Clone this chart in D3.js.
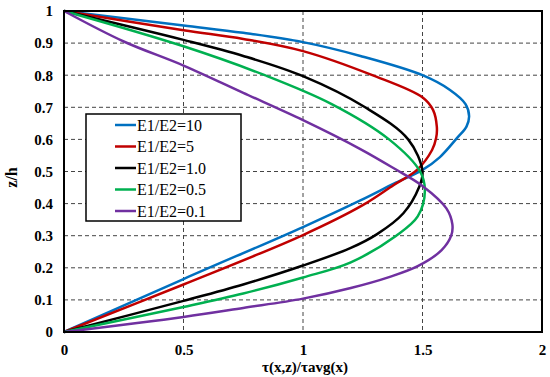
<!DOCTYPE html>
<html>
<head>
<meta charset="utf-8">
<script src="https://cdn.jsdelivr.net/npm/d3@7"></script>
<style>
body{margin:0;background:#fff}
svg text{font-family:"Liberation Serif","Times New Roman","DejaVu Serif",serif}
</style>
</head>
<body>
<script>
const w=550
const h=377
const mLeft=64, mRight=542, mTop=11, mBottom=332

// series names and colours
const names=["E1/E2=10","E1/E2=5","E1/E2=1.0","E1/E2=0.5","E1/E2=0.1"]
const colors=["#0070C0","#C00000","#000000","#00B050","#7030A0"]

// [tau, z] points, bottom to top
const e10=[[0,0],[0.5,0.165],[1.0,0.327],[1.24,0.41],[1.38,0.462],[1.5,0.505],[1.573,0.545],[1.644,0.604],[1.684,0.64],[1.695,0.672],[1.68,0.71],[1.615,0.754],[1.5,0.8],[1.24,0.86],[1.0,0.903],[0.75,0.932],[0.5,0.955],[0,1]]
const e5=[[0,0],[0.5,0.148],[1.0,0.302],[1.25,0.395],[1.38,0.458],[1.477,0.505],[1.54,0.567],[1.557,0.604],[1.56,0.639],[1.544,0.692],[1.502,0.73],[1.29,0.8],[1.0,0.875],[0.75,0.913],[0.5,0.94],[0,1]]
const e1=[[0,0],[0.5,0.097],[0.75,0.148],[1.0,0.207],[1.2,0.262],[1.31,0.305],[1.42,0.37],[1.485,0.45],[1.5,0.5],[1.44,0.6],[1.26,0.7],[1.0,0.797],[0.75,0.86],[0.5,0.91],[0,1]]
const e05=[[0,0],[0.5,0.078],[0.75,0.12],[1.0,0.17],[1.2,0.217],[1.39,0.3],[1.48,0.36],[1.51,0.44],[1.49,0.5],[1.36,0.6],[1.12,0.71],[0.84,0.8],[0.5,0.89],[0,1]]
const e01=[[0,0],[0.5,0.047],[0.75,0.075],[1.0,0.104],[1.2,0.137],[1.36,0.171],[1.48,0.205],[1.58,0.255],[1.62,0.3],[1.625,0.335],[1.6,0.385],[1.5,0.455],[1.38,0.51],[1.24,0.57],[1.0,0.66],[0.75,0.745],[0.5,0.83],[0.25,0.905],[0,1]]
const series=[e10,e5,e1,e05,e01]

const xTicks=[0,0.5,1,1.5,2]
const yTicks=[0,0.1,0.2,0.3,0.4,0.5,0.6,0.7,0.8,0.9,1]

const x=d3.scaleLinear().domain([0,2]).range([mLeft,mRight])
const y=d3.scaleLinear().domain([0,1]).range([mBottom,mTop])

const svg=d3.create("svg")
    .attr("width",w)
    .attr("height",h)

//grid
svg.append("g")
    .selectAll("line")
    .data(yTicks.slice(1,-1))
    .join("line")
    .attr("x1",mLeft).attr("x2",mRight)
    .attr("y1",d=>y(d)).attr("y2",d=>y(d))
    .attr("stroke","#444").attr("stroke-width",1).attr("stroke-dasharray","4,3")

svg.append("g")
    .selectAll("line")
    .data(xTicks.slice(1,-1))
    .join("line")
    .attr("y1",mTop).attr("y2",mBottom)
    .attr("x1",d=>x(d)).attr("x2",d=>x(d))
    .attr("stroke","#444").attr("stroke-width",1).attr("stroke-dasharray","4,3")

//axes, labels only
const xAxis=svg.append("g")
    .attr("transform",`translate(0,${mBottom})`)
    .call(d3.axisBottom(x).tickValues(xTicks).tickSize(0).tickPadding(12).tickFormat(d3.format("")))
const yAxis=svg.append("g")
    .attr("transform",`translate(${mLeft},0)`)
    .call(d3.axisLeft(y).tickValues(yTicks).tickSize(0).tickPadding(11).tickFormat(d3.format("")))
xAxis.select(".domain").remove()
yAxis.select(".domain").remove()
svg.selectAll(".tick text")
    .attr("font-size",15)
    .attr("font-weight","bold")
    .attr("fill","#000")

//curves
const line=d3.line()
    .x(d=>x(d[0]))
    .y(d=>y(d[1]))
    .curve(d3.curveCatmullRom.alpha(0.5))

svg.append("g")
    .selectAll("path")
    .data(series)
    .join("path")
    .attr("d",line)
    .attr("fill","none")
    .attr("stroke",(d,i)=>colors[i])
    .attr("stroke-width",2.5)

//frame
svg.append("rect")
    .attr("x",mLeft).attr("y",mTop)
    .attr("width",mRight-mLeft).attr("height",mBottom-mTop)
    .attr("fill","none").attr("stroke","#000").attr("stroke-width",2)

//legend
const lg=svg.append("g")
lg.append("rect")
    .attr("x",86).attr("y",114).attr("width",155).attr("height",107)
    .attr("fill","#fff").attr("stroke","#000").attr("stroke-width",1.5)
const item=lg.selectAll("g.item")
    .data(names)
    .join("g")
    .attr("class","item")
    .attr("transform",(d,i)=>`translate(0,${125+i*21.5})`)
item.append("line")
    .attr("x1",115).attr("x2",136)
    .attr("stroke",(d,i)=>colors[i]).attr("stroke-width",2.5)
item.append("text")
    .attr("x",137).attr("dy","0.35em")
    .attr("font-size",16)
    .text(d=>d)

//titles
svg.append("text")
    .attr("x",(mLeft+mRight)/2+2).attr("y",372)
    .attr("text-anchor","middle")
    .attr("font-size",15).attr("font-weight","bold")
    .text("τ(x,z)/τavg(x)")

svg.append("text")
    .attr("transform",`translate(17,${(mTop+mBottom)/2+6}) rotate(-90)`)
    .attr("text-anchor","middle")
    .attr("font-size",16).attr("font-weight","bold")
    .text("z/h")

d3.select("body").append(()=>svg.node())
</script>
</body>
</html>
